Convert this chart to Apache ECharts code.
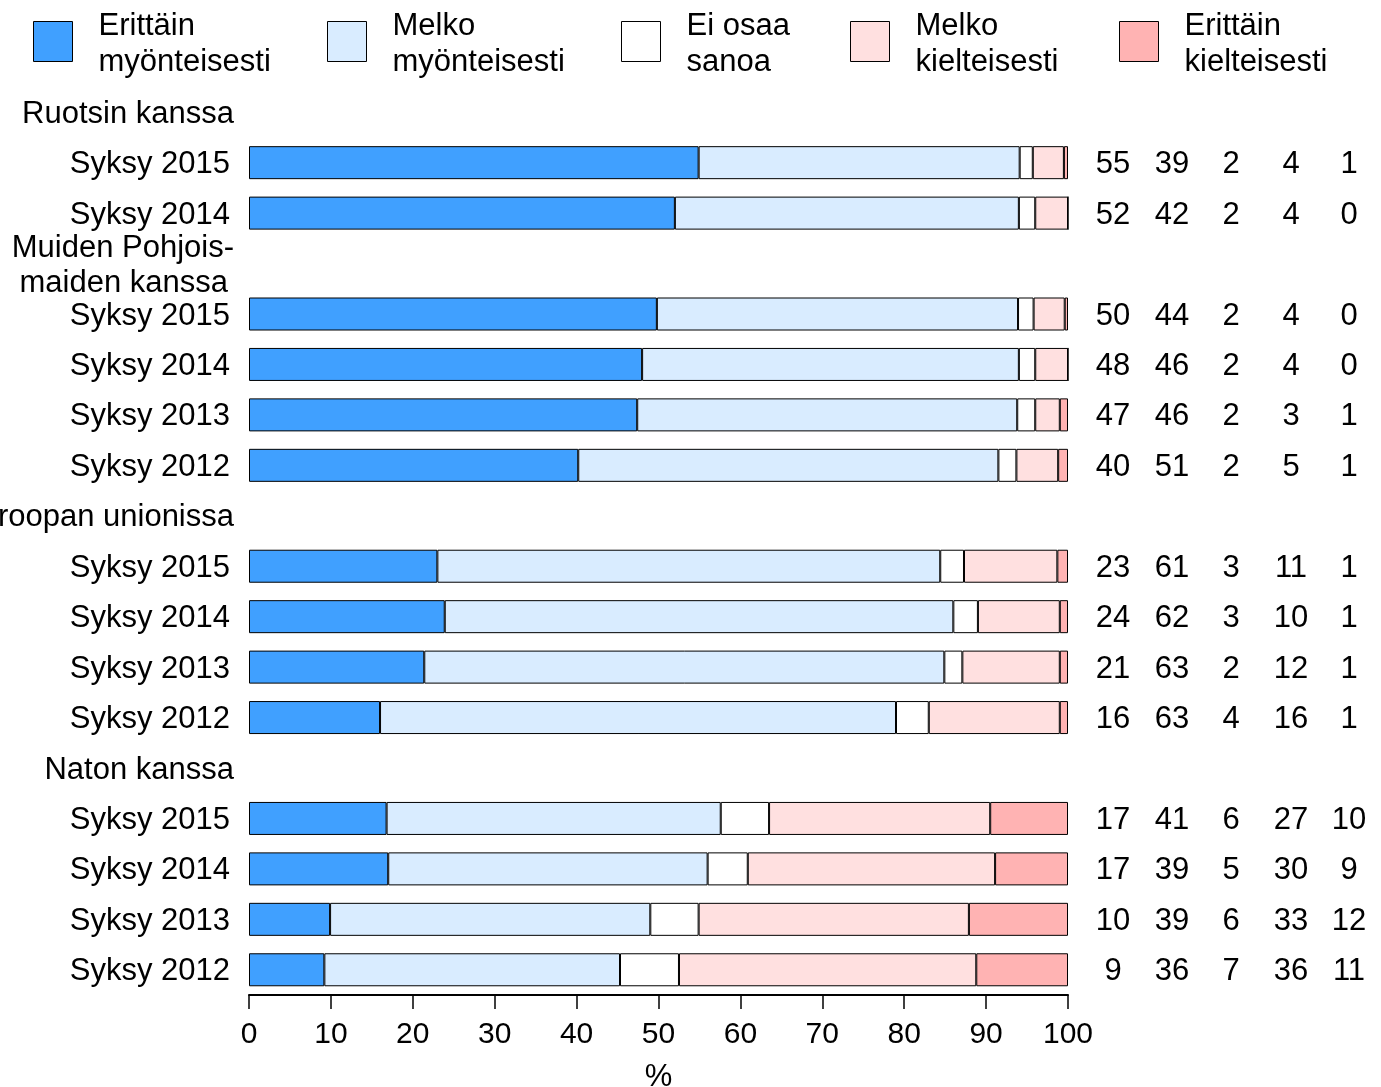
<!DOCTYPE html>
<html><head><meta charset="utf-8">
<script src="https://cdn.jsdelivr.net/npm/echarts@6/dist/echarts.min.js"></script>
<style>html,body{margin:0;padding:0;background:#fff}#c{width:1381px;height:1087px}</style>
</head><body><div id="c"></div>
<script>
// ---- data ----
const rowLabels = ['Ruotsin kanssa','Syksy 2015','Syksy 2014',
  'Muiden Pohjois-\nmaiden kanssa','Syksy 2015','Syksy 2014','Syksy 2013','Syksy 2012',
  'Euroopan unionissa','Syksy 2015','Syksy 2014','Syksy 2013','Syksy 2012',
  'Naton kanssa','Syksy 2015','Syksy 2014','Syksy 2013','Syksy 2012'];
const headerRows = [0,3,8,13];
const seriesNames = ['Erittäin\nmyönteisesti','Melko\nmyönteisesti','Ei osaa\nsanoa','Melko\nkielteisesti','Erittäin\nkielteisesti'];
// bar lengths (unrounded)
const erittainMyont = [54.9,52.0,49.8,48.0,47.4,40.2,23.0,23.9,21.4,16.0,16.8,17.0,9.9,9.2];
const melkoMyont    = [39.2,42.0,44.1,46.0,46.4,51.3,61.4,62.1,63.5,63.0,40.8,39.0,39.1,36.1];
const eiOsaa        = [1.6,2.0,1.9,2.0,2.2,2.2,2.9,3.0,2.2,4.0,5.9,4.9,5.9,7.2];
const melkoKiel     = [3.8,4.0,3.8,4.0,3.0,5.1,11.4,10.0,11.9,16.0,27.0,30.2,33.0,36.3];
const erittainKiel  = [0.5,0,0.4,0,1.0,1.2,1.3,1.0,1.0,1.0,9.5,8.9,12.1,11.2];
// printed (rounded) numbers on the right
const numErittainMyont = [55,52,50,48,47,40,23,24,21,16,17,17,10,9];
const numMelkoMyont    = [39,42,44,46,46,51,61,62,63,63,41,39,39,36];
const numEiOsaa        = [2,2,2,2,2,2,3,3,2,4,6,5,6,7];
const numMelkoKiel     = [4,4,4,4,3,5,11,10,12,16,27,30,33,36];
const numErittainKiel  = [1,0,0,0,1,1,1,1,1,1,10,9,12,11];
const colors = ['#40A0FF','#D9ECFF','#FFFFFF','#FFE0E0','#FFB3B3'];

// ---- build ----
function toRows(vals){
  const out=[]; let k=0;
  for(let i=0;i<rowLabels.length;i++) out.push(headerRows.includes(i)?null:vals[k++]);
  return out;
}
const FONT = 'Liberation Sans, Arial, sans-serif';
const barVals = [erittainMyont, melkoMyont, eiOsaa, melkoKiel, erittainKiel];
const numVals = [numErittainMyont, numMelkoMyont, numEiOsaa, numMelkoKiel, numErittainKiel];
const legendLeft = [33,327,621,850,1119];
const numOffsets = [45,104,163,223,281];

const series = seriesNames.map((n,i)=>({
  name:n, type:'bar', stack:'all', barWidth:33, yAxisIndex:0,
  data: toRows(barVals[i]),
  itemStyle:{color:colors[i], borderColor:'#000', borderWidth:1},
  emphasis:{disabled:true}, animation:false
}));

const legends = seriesNames.map((n,i)=>({
  data:[n], left:legendLeft[i], top:5, padding:0, icon:'rect',
  itemWidth:39, itemHeight:40,
  itemStyle:{borderColor:'#000', borderWidth:1},
  formatter: name => '{s| }\n' + name.split('\n').map(s=>'{a|'+s+'}').join('\n'),
  textStyle:{fontFamily:FONT, fontSize:31, color:'#000', padding:[0,0,0,21],
    rich:{
      s:{fontSize:1, lineHeight:6},
      a:{fontFamily:FONT, fontSize:31, color:'#000', lineHeight:36}
    }}
}));

const yAxes = [{
  type:'category', data:rowLabels, inverse:true,
  axisLine:{show:false}, axisTick:{show:false}, splitLine:{show:false},
  axisLabel:{
    interval:0, margin:15, color:'#000', fontFamily:FONT, fontSize:31,
    formatter:(v,i)=> headerRows.includes(i)
      ? v.split('\n').map((s,k,a)=>'{' + (a.length>1 && k===a.length-1 ? 'h2' : 'h') + '|'+s+'}').join('\n')
      : '{y|'+v+'}',
    rich:{
      h:{fontFamily:FONT, fontSize:31, lineHeight:35, color:'#000', padding:[4,0,0,0]},
      h2:{fontFamily:FONT, fontSize:31, lineHeight:35, color:'#000', padding:[4,6,0,0]},
      y:{fontFamily:FONT, fontSize:31, color:'#000', padding:[4,4,0,0]}
    }
  }
}];
numVals.forEach((arr,j)=>{
  const rows = toRows(arr);
  yAxes.push({
    type:'category', data:rowLabels, inverse:true, position:'right', offset:numOffsets[j],
    axisLine:{show:false}, axisTick:{show:false}, splitLine:{show:false},
    axisLabel:{interval:0, margin:0, align:'center', color:'#000', fontFamily:FONT, fontSize:31,
      formatter:(v,i)=> rows[i]==null ? '' : '{n|' + rows[i] + '}',
      rich:{n:{fontFamily:FONT, fontSize:31, color:'#000', padding:[4,0,0,0]}}}
  });
});

const option = {
  animation:false,
  textStyle:{fontFamily:FONT},
  legend: legends,
  grid:{left:249, right:313, top:87, bottom:92, containLabel:false, outerBoundsMode:'none'},
  xAxis:{
    type:'value', min:0, max:100, interval:10,
    name:'%', nameLocation:'middle', nameGap:67,
    nameTextStyle:{fontFamily:FONT, fontSize:31, color:'#000'},
    axisLine:{show:true, lineStyle:{color:'#000', width:2}},
    axisTick:{show:true, length:14, lineStyle:{color:'#000', width:1.5}},
    axisLabel:{margin:25, color:'#000', fontFamily:FONT, fontSize:30},
    splitLine:{show:false}
  },
  yAxis: yAxes,
  series: series
};
const chart = echarts.init(document.getElementById('c'), null, {renderer:'canvas'});
chart.setOption(option);
</script></body></html>
